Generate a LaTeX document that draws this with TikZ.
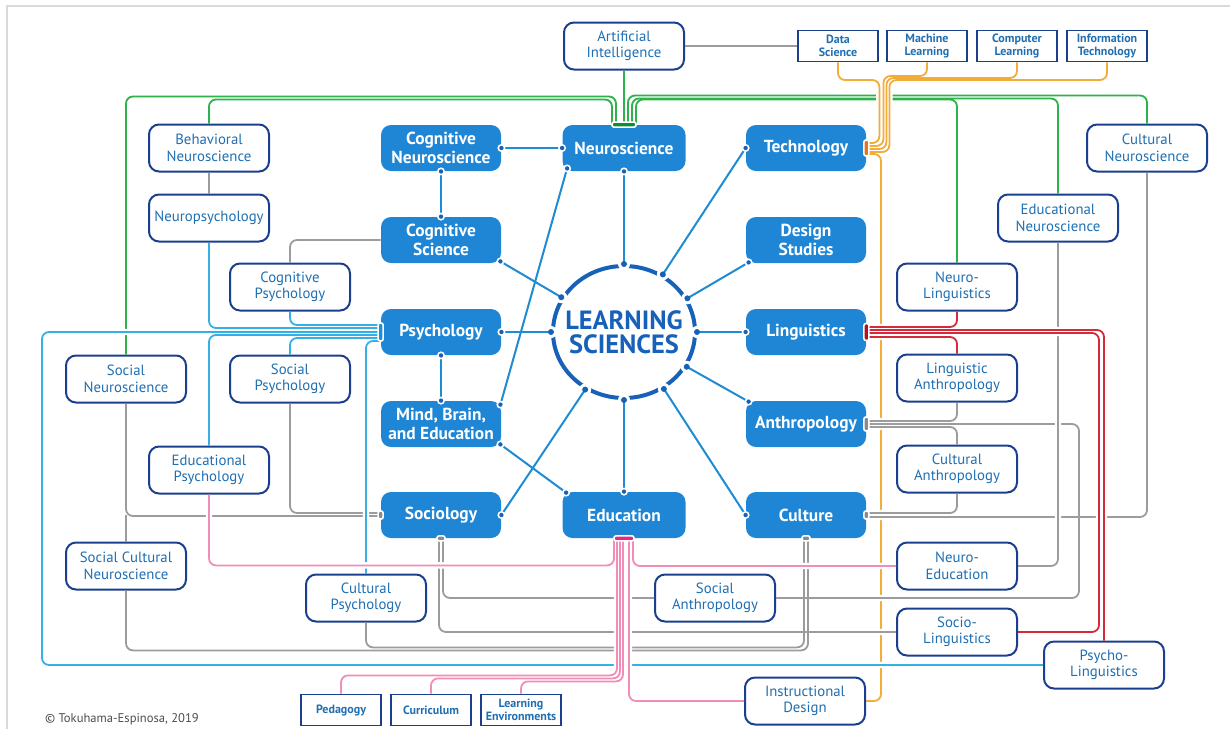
\documentclass[tikz,border=0pt]{standalone}
\usepackage{fontspec}
\setmainfont{PT Sans}
\usetikzlibrary{calc,shapes.geometric}
\definecolor{coreblue}{HTML}{1F86D6}
\definecolor{ringblue}{HTML}{1762B8}
\definecolor{linkblue}{HTML}{1E8BD2}
\definecolor{navy}{HTML}{1B3F8F}
\definecolor{fieldtext}{HTML}{1F6FB2}
\definecolor{lgreen}{HTML}{2DB34A}
\definecolor{pgreen}{HTML}{138A36}
\definecolor{lorange}{HTML}{F2AC3A}
\definecolor{porange}{HTML}{E8731A}
\definecolor{lcyan}{HTML}{35B0E6}
\definecolor{pcyan}{HTML}{1E8FD0}
\definecolor{lred}{HTML}{D42A3A}
\definecolor{pred}{HTML}{B8101E}
\definecolor{lpink}{HTML}{F28DB8}
\definecolor{ppink}{HTML}{E8287A}
\definecolor{lgray}{HTML}{9C9C9C}
\definecolor{pgray}{HTML}{8A8A8A}
\definecolor{framegray}{HTML}{D9D9D9}
% a group of wires: white halos first, then the coloured lines
\newcommand{\wires}[2]{%
  \foreach \p in {#2} {\draw[halo] \p;}
  \foreach \p in {#2} {\draw[#1] \p;}}
\newcommand{\port}[3]{\filldraw[draw=white, line width=0.8pt, fill=#1, rounded corners=1pt]
  ($(#2)+#3$) rectangle ($(#2)-#3$);}
\newcommand{\tiering}[2]{\draw[link] (#1) -- (#2);
  \fill[white] (#1) circle[radius=4]; \fill[ringblue] (#1) circle[radius=2.2];
  \fill[ringblue] (#2) circle[radius=3];}
\newcommand{\tiebox}[2]{\draw[link] (#1) -- (#2);
  \fill[white] (#1) circle[radius=4]; \fill[ringblue] (#1) circle[radius=2.2];
  \fill[white] (#2) circle[radius=4]; \fill[ringblue] (#2) circle[radius=2.2];}
\tikzset{
  core/.style={fill=coreblue, rounded corners=5pt, text=white, align=center,
               font=\bfseries\fontsize{8.7}{9.3}\selectfont, minimum width=60pt,
               minimum height=23pt, inner sep=1pt},
  field/.style={draw=navy, fill=white, line width=1pt, rounded corners=5pt,
                text=fieldtext, align=center, font=\fontsize{7.4}{8.2}\selectfont,
                minimum width=60pt, minimum height=23.5pt, inner sep=1pt},
  tag/.style={draw=navy, fill=white, line width=0.8pt, text=fieldtext, align=center,
              font=\bfseries\fontsize{6}{6.2}\selectfont, minimum width=40pt,
              minimum height=15.5pt, inner sep=0.5pt},
  ring/.style={ellipse, draw=ringblue, line width=2pt, minimum width=71pt,
               minimum height=66pt, text=ringblue, align=center,
               font=\bfseries\fontsize{13.2}{11.8}\selectfont, inner sep=-8pt},
  link/.style={draw=linkblue, line width=1pt},
  wire/.style={line width=0.9pt, rounded corners=3.5pt},
  halo/.style={wire, draw=white, line width=3.2pt, shorten <=2.5pt, shorten >=2.5pt},
  wgreen/.style={wire, draw=lgreen},
  worange/.style={wire, draw=lorange},
  wcyan/.style={wire, draw=lcyan},
  wred/.style={wire, draw=lred},
  wpink/.style={wire, draw=lpink},
  wgray/.style={wire, draw=lgray},
  credit/.style={font=\fontsize{6.3}{7}\selectfont, text=black!70}
}
\begin{document}
\begin{tikzpicture}[x=0.5pt,y=-0.5pt]
  \useasboundingbox (0,0) rectangle (1230,729);
  \draw[framegray, line width=0.6pt] (7,729) -- (7,6) -- (1230,6);

  % core disciplines
  \node[core] (cogneuro) at (441,148) {Cognitive\\Neuroscience};
  \node[core, minimum width=61.5pt] (neuro) at (624,148) {Neuroscience};
  \node[core] (tech) at (806,148) {Technology};
  \node[core] (cogsci) at (441,240) {Cognitive\\Science};
  \node[core] (design) at (806,240) {Design\\Studies};
  \node[core] (psy) at (441,332) {Psychology};
  \node[core] (ling) at (806,332) {Linguistics};
  \node[core] (mbe) at (441,424) {Mind, Brain,\\and Education};
  \node[core] (anth) at (806,424) {Anthropology};
  \node[core] (soc) at (441,515) {Sociology};
  \node[core, minimum width=61.5pt] (edu) at (624,515) {Education};
  \node[core] (cult) at (806,515) {Culture};
  \node[ring] (ls) at (624,332) {LEARNING\\SCIENCES};

  % sub-fields
  \node[field] (ai) at (624,46) {Artificial\\Intelligence};
  \node[tag] (ds) at (838,46) {Data\\Science};
  \node[tag] (ml) at (927,46) {Machine\\Learning};
  \node[tag] (cl) at (1017,46) {Computer\\Learning};
  \node[tag] (it) at (1107,46) {Information\\Technology};
  \node[field] (behn) at (209,148) {Behavioral\\Neuroscience};
  \node[field] (npsy) at (209,218) {Neuropsychology};
  \node[field] (culneuro) at (1147,148) {Cultural\\Neuroscience};
  \node[field] (edneuro) at (1058,218) {Educational\\Neuroscience};
  \node[field] (cogpsy) at (290,287) {Cognitive\\Psychology};
  \node[field] (nling) at (957,287) {Neuro-\\Linguistics};
  \node[field] (socneuro) at (126,379) {Social\\Neuroscience};
  \node[field] (socpsy) at (290,379) {Social\\Psychology};
  \node[field] (linganth) at (957,378) {Linguistic\\Anthropology};
  \node[field] (edpsy) at (209,470) {Educational\\Psychology};
  \node[field] (culanth) at (957,469) {Cultural\\Anthropology};
  \node[field] (scn) at (126,566) {Social Cultural\\Neuroscience};
  \node[field] (culpsy) at (366,598) {Cultural\\Psychology};
  \node[field] (socanth) at (715,598) {Social\\Anthropology};
  \node[field] (neuroed) at (957,566) {Neuro-\\Education};
  \node[field] (socling) at (957,632) {Socio-\\Linguistics};
  \node[field] (psyling) at (1104,665) {Psycho-\\Linguistics};
  \node[field] (instr) at (805,701) {Instructional\\Design};
  \node[tag] (ped) at (341,710) {Pedagogy};
  \node[tag] (curr) at (431,710) {Curriculum};
  \node[tag] (lenv) at (521,710) {Learning\\Environments};
  \node[credit, anchor=west] (credit) at (38,719) {\textcopyright\ Tokuhama-Espinosa, 2019};

  % neuroscience
  \wires{wgreen}{
    {(ai.south) -- (neuro.north)},
    {($(neuro.north)+(-12,0)$) |- ($(behn.north)+(0,-24)$) -- (behn.north)},
    {($(neuro.north)+(-8,0)$) |- ($(socneuro.north)+(0,-258)$) -- (socneuro.north)},
    {($(neuro.north)+(4,0)$) |- ($(culneuro.north)+(0,-28)$) -- (culneuro.north)},
    {($(neuro.north)+(8,0)$) |- ($(edneuro.north)+(0,-95)$) -- (edneuro.north)},
    {($(neuro.north)+(12,0)$) |- ($(nling.north)+(0,-163)$) -- (nling.north)}}

  % technology
  \wires{worange}{
    {(ds.south) |- ($(tech.east)+(13,-68)$) |- ($(tech.east)+(0,-5)$)},
    {(ml.south) |- ($(tech.east)+(17,-72)$) |- ($(tech.east)+(0,-2)$)},
    {(cl.south) |- ($(tech.east)+(20,-70)$) |- ($(tech.east)+(0,1)$)},
    {(it.south) |- ($(tech.east)+(23,-68)$) |- ($(tech.east)+(0,4)$)},
    {($(tech.east)+(0,6)$) -| ($(instr.east)+(15,0)$) -- (instr.east)}}

  % gray links
  \wires{wgray}{
    {(ai.east) -- (ds.west)},
    {(behn.south) -- (npsy.north)},
    {(cogsci.west) -| (cogpsy.north)},
    {(linganth.south) |- ($(anth.east)+(0,-3)$)},
    {(culanth.north) |- ($(anth.east)+(0,3)$)},
    {(anth.east) -| ($(socanth.east)+(303,0)$) -- (socanth.east)},
    {(culanth.south) |- ($(cult.east)+(0,-2)$)},
    {($(cult.east)+(0,2)$) -| (culneuro.south)},
    {(socneuro.south) |- ($(soc.west)+(0,1)$)},
    {(socpsy.south) |- ($(soc.west)+(0,-2)$)},
    {(scn.north) -- (scn.north |- soc.west)},
    {($(soc.south)+(2,0)$) |- (socanth.west)},
    {($(soc.south)+(-2,0)$) |- (socling.west)},
    {(culpsy.south) |- ($(cult.south)+(-2,109)$) -- ($(cult.south)+(-2,0)$)},
    {(scn.south) |- ($(cult.south)+(2,112)$) -- ($(cult.south)+(2,0)$)}}
  \wires{wgray}{{(edneuro.south) |- (neuroed.east)}}

  % linguistics
  \wires{wred}{
    {(nling.south) |- ($(ling.east)+(0,-5)$)},
    {($(ling.east)+(0,-2)$) -| (psyling.north)},
    {($(ling.east)+(0,1)$) -| ($(socling.east)+(81,0)$) -- (socling.east)},
    {(linganth.north) |- ($(ling.east)+(0,5)$)}}

  % psychology
  \wires{wcyan}{
    {(cogpsy.south) |- ($(psy.west)+(0,-7)$)},
    {(npsy.south) |- ($(psy.west)+(0,-4)$)},
    {(psy.west) -| ($(psyling.west)+(-1001,0)$) -- (psyling.west)},
    {(edpsy.north) |- ($(psy.west)+(0,3)$)},
    {(socpsy.north) |- ($(psy.west)+(0,6)$)},
    {(culpsy.north) |- ($(psy.west)+(0,9)$)}}

  % education
  \wires{wpink}{
    {(edpsy.south) |- ($(edu.south)+(-10,27)$) -- ($(edu.south)+(-10,0)$)},
    {(ped.north) |- ($(edu.south)+(-7,137)$) -- ($(edu.south)+(-7,0)$)},
    {(curr.north) |- ($(edu.south)+(-4,140)$) -- ($(edu.south)+(-4,0)$)},
    {(lenv.north) |- ($(edu.south)+(-1,143)$) -- ($(edu.south)+(-1,0)$)},
    {($(edu.south)+(5,0)$) |- (instr.west)},
    {(neuroed.west) -| ($(edu.south)+(9,0)$)}}

  % ports
  \port{pgreen}{neuro.north}{(12,2.5)}
  \port{porange}{tech.east}{(2.5,8)}
  \port{pcyan}{psy.west}{(2.5,9)}
  \port{pred}{ling.east}{(2.5,8.5)}
  \port{pgray}{anth.east}{(2.5,7)}
  \port{pgray}{soc.west}{(2.5,4)}
  \port{pgray}{soc.south}{(4,2.5)}
  \port{pgray}{cult.east}{(2.5,4)}
  \port{pgray}{cult.south}{(4,2.5)}
  \port{ppink}{edu.south}{(10,2.5)}

  % links to the centre
  \foreach \a in {0,28,56,90,151,180,236,270,305,331}
    \fill[white] (ls.\a) circle[radius=6];
  \tiebox{cogneuro.east}{neuro.west}
  \tiebox{cogneuro.south}{cogsci.north}
  \tiebox{psy.south}{mbe.north}
  \tiebox{$(neuro.south west)+(5,-3)$}{$(mbe.north east)+(-1,4)$}
  \tiebox{$(mbe.south east)+(-1,-3)$}{$(edu.north west)+(4,1)$}
  \tiering{neuro.south}{ls.90}
  \tiering{$(cogsci.south east)+(-1,-2)$}{ls.151}
  \tiering{psy.east}{ls.180}
  \tiering{soc.east}{ls.236}
  \tiering{edu.north}{ls.270}
  \tiering{cult.west}{ls.305}
  \tiering{$(anth.north west)+(3,1)$}{ls.331}
  \tiering{ling.west}{ls.0}
  \tiering{$(design.south west)+(3,-1)$}{ls.28}
  \tiering{tech.west}{ls.56}
\end{tikzpicture}
\end{document}
